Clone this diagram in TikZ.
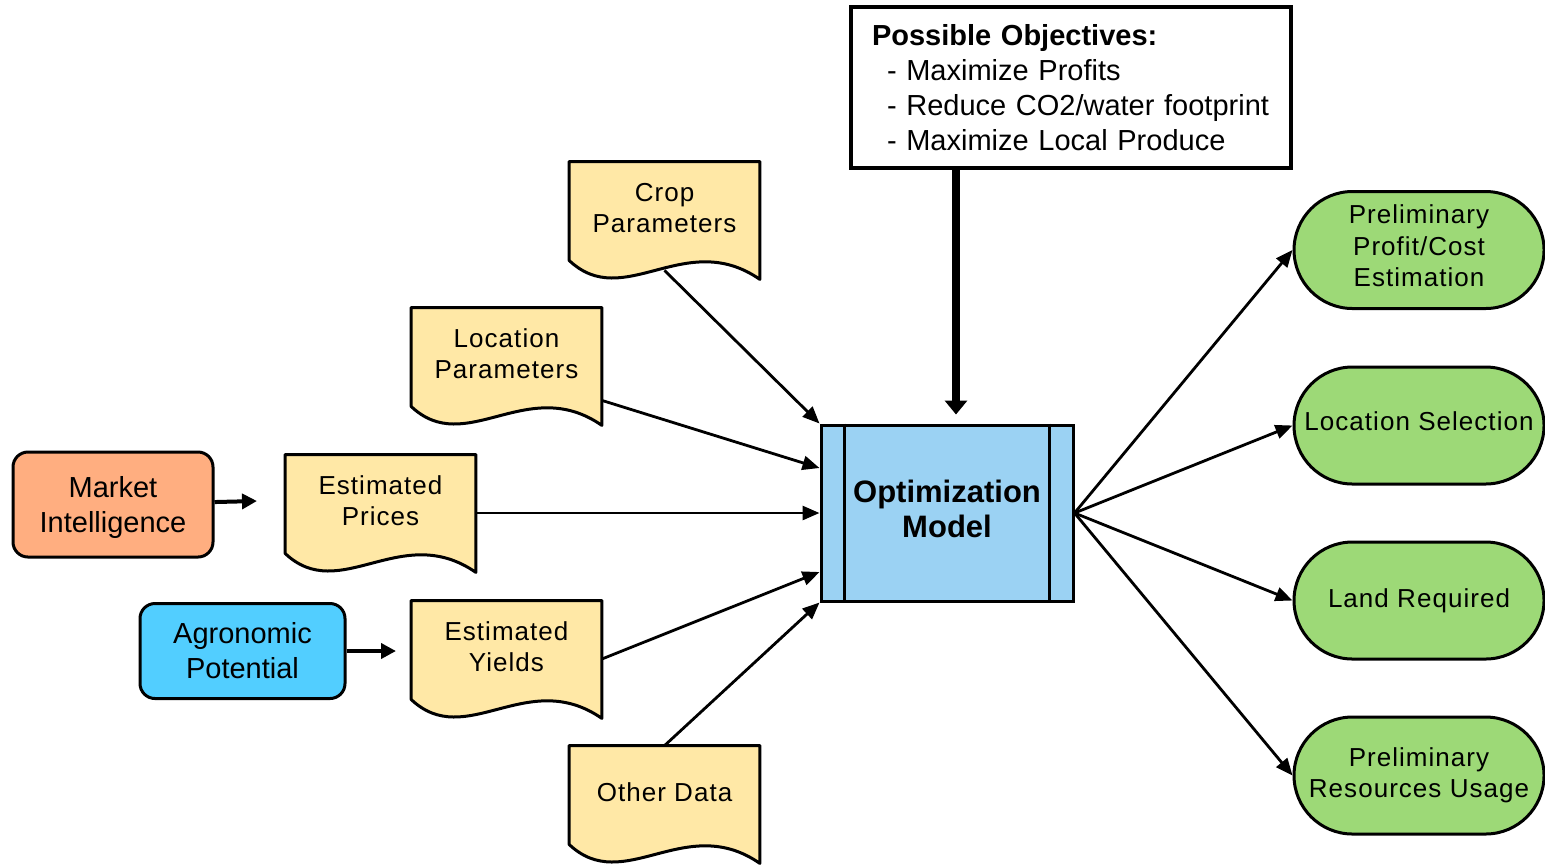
\documentclass[tikz,border=0pt]{standalone}
\usepackage{fontspec}
\setmainfont{Liberation Sans}
\newfontfamily\docfont[LetterSpace=4]{Liberation Sans}
\usetikzlibrary{arrows.meta,shapes.misc,backgrounds}

\definecolor{docyellow}{HTML}{FFE8A6}
\definecolor{optblue}{HTML}{9BD2F3}
\definecolor{outgreen}{HTML}{9DD977}
\definecolor{mktorange}{HTML}{FFAE80}
\definecolor{agrocyan}{HTML}{52CEFF}

\begin{document}
\begin{tikzpicture}[x=0.5pt,y=-0.5pt,
    doc/.style={minimum width=95pt,minimum height=46pt,inner sep=0pt,align=center,
      font=\docfont\fontsize{13}{15.5}\selectfont},
    src/.style={draw,line width=1.5pt,rounded corners=7.5pt,inner sep=0pt,align=center,
      font=\fontsize{14.5}{17.5}\selectfont},
    result/.style={rounded rectangle,draw,line width=1.5pt,fill=outgreen,minimum width=125pt,
      minimum height=58.5pt,inner sep=0pt,align=center,font=\docfont\fontsize{13}{15.75}\selectfont},
    arr/.style={line width=1.4pt,-{Triangle[length=8.5pt,width=7pt]}},
    feed/.style={line width=2pt,-{Triangle[length=7.5pt,width=7.5pt]}}]
  \useasboundingbox (0,0) rectangle (1545,864);

  \node[draw,line width=1.6pt,minimum width=220pt,minimum height=80.5pt,inner xsep=10.5pt,
    text width=199pt,align=left,font=\fontsize{14.5}{17.5}\selectfont] (obj) at (1071,87.5)
    {\textbf{Possible Objectives:}\\
     \hspace*{7.5pt}- Maximize Profits\\
     \hspace*{7.5pt}- Reduce CO2/water footprint\\
     \hspace*{7.5pt}- Maximize Local Produce};

  \node[draw,line width=1.5pt,fill=optblue,minimum width=126pt,minimum height=88pt,inner sep=0pt,
    text depth=4pt,align=center,font=\bfseries\fontsize{15.5}{17.5}\selectfont] (opt) at (947,513)
    {Optimization\\Model};
  \draw[line width=1.5pt]
    ([xshift=12.5pt]opt.north west) -- ([xshift=12.5pt]opt.south west)
    ([xshift=-12.5pt]opt.north east) -- ([xshift=-12.5pt]opt.south east);

  \node[doc] (crop) at (664.5,208) {Crop\\Parameters};
  \node[doc] (loc) at (506.5,354) {Location\\Parameters};
  \node[doc] (price) at (380.5,501) {Estimated\\Prices};
  \node[doc] (yield) at (506.5,647) {Estimated\\Yields};
  \node[doc] (other) at (664.5,792) {Other Data};

  \begin{scope}[on background layer]
    \foreach \d in {crop,loc,price,yield,other}
      \filldraw[fill=docyellow,line width=1.5pt,line join=round]
        (\d.north west) -- ([yshift=-3pt]\d.south west)
        .. controls +(27.5pt,-26pt) and +(-37.5pt,26pt) .. ([yshift=-12.5pt]\d.south east)
        -- (\d.north east) -- cycle;
  \end{scope}

  \node[src,fill=mktorange,minimum width=100pt,minimum height=52.5pt,text depth=0pt] (mkt) at (113,504.5)
    {Market\\Intelligence};
  \node[src,fill=agrocyan,minimum width=102.5pt,minimum height=47.5pt] (agro) at (242.5,651)
    {Agronomic\\Potential};
  \coordinate (mktend) at (257,501);
  \coordinate (agroend) at (396,651);

  \node[result,text depth=4pt] (r1) at (1419,250) {Preliminary\\Profit/Cost\\Estimation};
  \node[result,text depth=4pt] (r2) at (1419,425.5) {Location Selection};
  \node[result] (r3) at (1419,600.5) {Land Required};
  \node[result] (r4) at (1419,775.5) {Preliminary\\Resources Usage};

  \draw[line width=4pt,-{Triangle[length=7pt,width=11pt]},shorten >=4.5pt]
    ([xshift=4.5pt]opt.north |- obj.south) -- ([xshift=4.5pt]opt.north);

  \path[feed]
    (mkt) edge (mktend)
    (agro) edge (agroend);
  \path[arr]
    ([yshift=-8pt]crop.south) edge (opt.north west)
    (loc.south east) edge ([yshift=22.5pt]opt.west)
    ([yshift=-6pt]price.east) edge (opt.west)
    ([yshift=-6pt]yield.east) edge ([yshift=-29.5pt]opt.west)
    (other.north) edge (opt.south west);
  \path[arr]
    (opt.east) edge (r1.west)
    (opt.east) edge (r2.west)
    (opt.east) edge (r3.west)
    (opt.east) edge (r4.west);
\end{tikzpicture}
\end{document}
